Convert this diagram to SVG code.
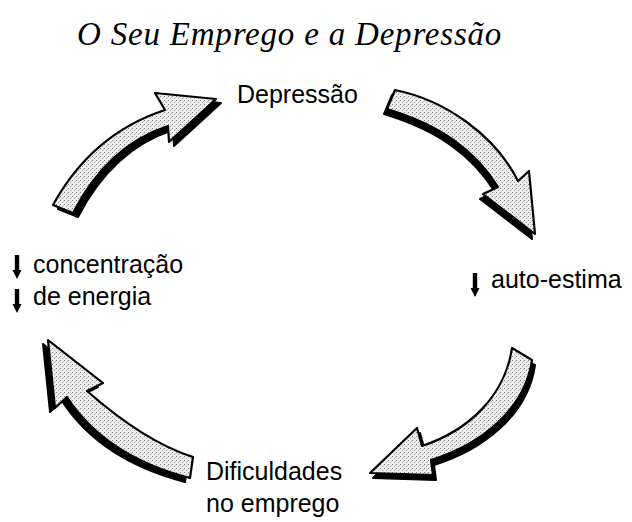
<svg xmlns="http://www.w3.org/2000/svg" width="632" height="522" viewBox="0 0 632 522">
<style>
.lbl{font-family:"Liberation Sans",Arial,sans-serif;font-size:25px;fill:#000}
.title{font-family:"Liberation Serif","Times New Roman",serif;font-style:italic;font-size:33px;letter-spacing:0.8px;fill:#000}
.shadow{fill:#000;stroke:#000;stroke-width:2;stroke-linejoin:round}
.body{fill:url(#stip);stroke:#000;stroke-width:2.2;stroke-linejoin:round}
</style>
<defs>
<pattern id="stip" width="4" height="4" patternUnits="userSpaceOnUse">
<rect width="4" height="4" fill="#eeeeee"/>
<rect x="0" y="0" width="1" height="1" fill="#808080"/>
<rect x="2" y="2" width="1" height="1" fill="#a8a8a8"/>
<rect x="3" y="1" width="1" height="1" fill="#c8c8c8"/>
</pattern>
<path id="down" d="M-2.2,0 H2.2 V15 H4.5 L0,24 L-4.5,15 H-2.2 Z" fill="#000"/>
</defs>
<rect width="632" height="522" fill="#fff"/>

<g id="title"><text class="title" x="77" y="45">O Seu Emprego e a Depressão</text></g>

<g id="connectors">
<g id="arrow-top-left">
<path class="shadow" transform="translate(5,4)" d="M53,205 C75,165 110,128 165,110 L155,93 L216,99 L169,142 L168,126 C125,140 95,170 73,213 Z"/>
<path class="body" d="M53,205 C75,165 110,128 165,110 L155,93 L216,99 L169,142 L168,126 C125,140 95,170 73,213 Z"/>
</g>
<g id="arrow-top-right">
<path class="shadow" transform="translate(-3,5)" d="M395,90 C445,100 495,135 518,181 L529,171 L535,234 L483,194 L498,187 C475,150 440,125 387,109 Z"/>
<path class="body" d="M395,90 C445,100 495,135 518,181 L529,171 L535,234 L483,194 L498,187 C475,150 440,125 387,109 Z"/>
</g>
<g id="arrow-bottom-right">
<path class="shadow" transform="translate(3,5)" d="M512,348 L532,360 C525,410 480,445 431,460 L433,475 L370,473 L417,428 L422,446 C470,430 505,395 512,348 Z"/>
<path class="body" d="M512,348 L532,360 C525,410 480,445 431,460 L433,475 L370,473 L417,428 L422,446 C470,430 505,395 512,348 Z"/>
</g>
<g id="arrow-bottom-left">
<path class="shadow" transform="translate(-5,4)" d="M48,340 L103,383 L87,391 C120,420 155,445 193,457 L190,478 C140,465 95,440 67,397 L55,408 Z"/>
<path class="body" d="M48,340 L103,383 L87,391 C120,420 155,445 193,457 L190,478 C140,465 95,440 67,397 L55,408 Z"/>
</g>
</g>

<g id="node-depressao"><text class="lbl" x="237" y="103">Depressão</text></g>

<g id="node-autoestima">
<use href="#down" x="475" y="273"/>
<text class="lbl" x="491" y="288">auto-estima</text>
</g>

<g id="node-dificuldades">
<text class="lbl" x="206" y="480">Dificuldades</text>
<text class="lbl" x="206" y="512">no emprego</text>
</g>

<g id="node-concentracao">
<use href="#down" x="17" y="255"/>
<text class="lbl" x="33" y="273">concentração</text>
<use href="#down" x="17" y="289"/>
<text class="lbl" x="33" y="305">de energia</text>
</g>
</svg>
